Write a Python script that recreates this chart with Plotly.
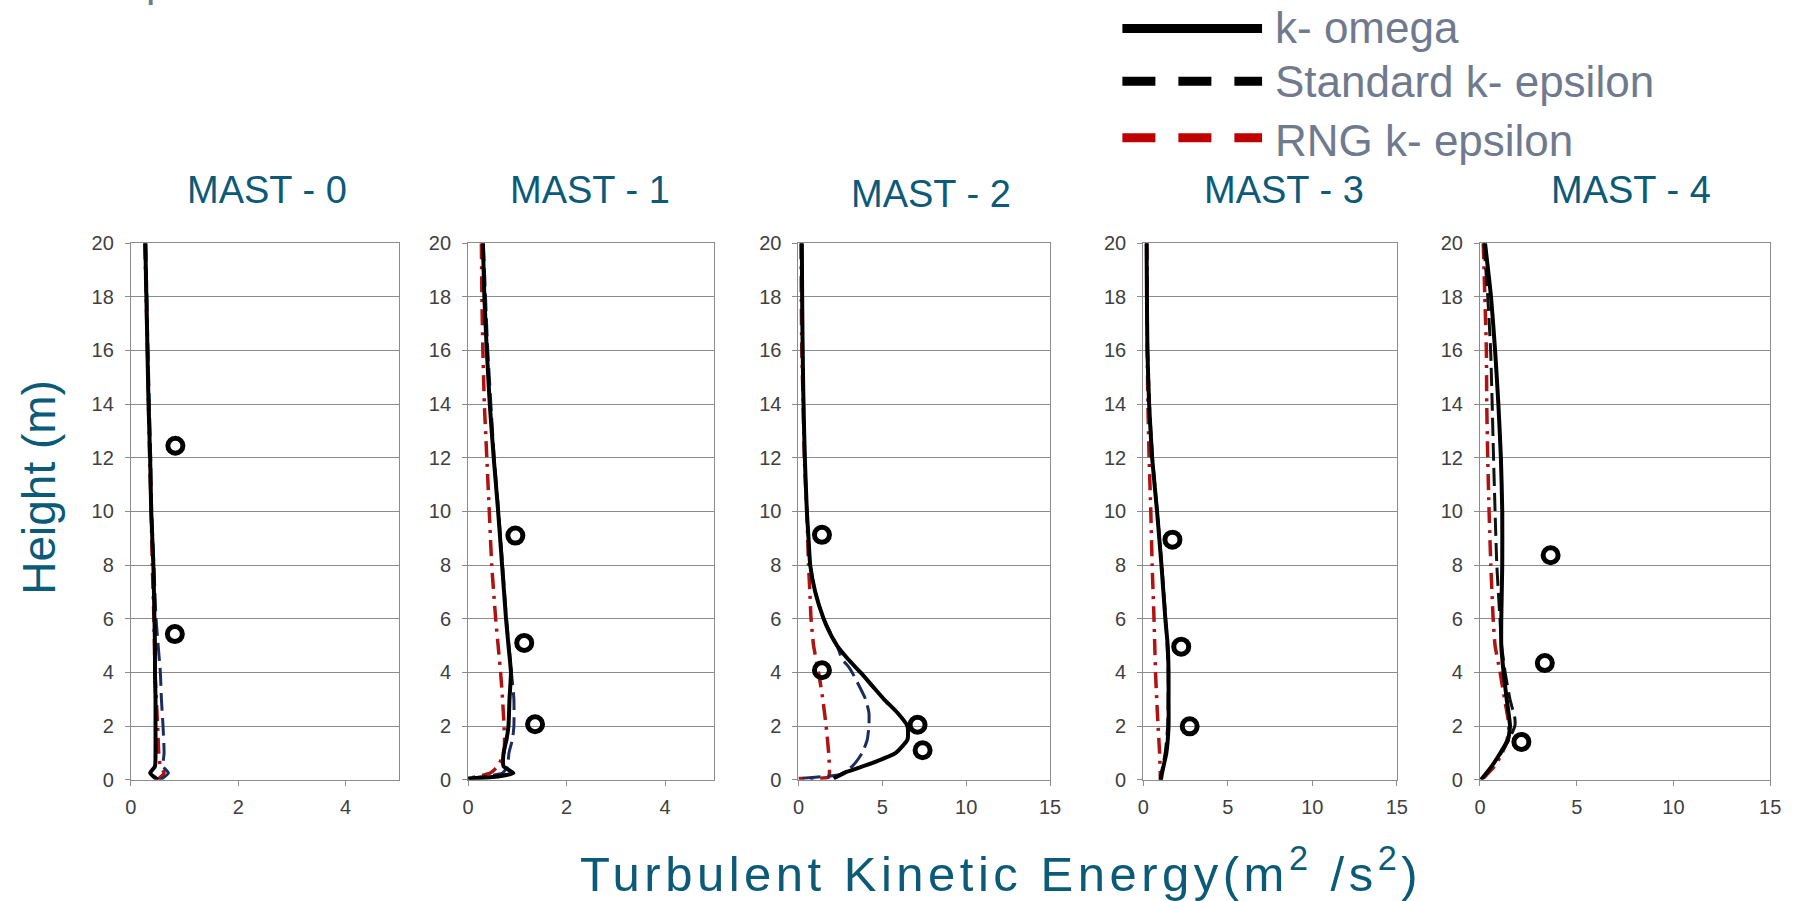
import plotly.graph_objects as go

W, H = 1806, 901
FONT = "Liberation Sans, Arial, sans-serif"

# ---------------- data ----------------
panel_titles = ["MAST - 0", "MAST - 1", "MAST - 2", "MAST - 3", "MAST - 4"]
x_ranges = [[0, 5], [0, 5], [0, 15], [0, 15], [0, 15]]
x_ticks = [[0, 2, 4], [0, 2, 4], [0, 5, 10, 15], [0, 5, 10, 15], [0, 5, 10, 15]]
y_ticks = [0, 2, 4, 6, 8, 10, 12, 14, 16, 18, 20]
series_names = ["k- omega", "Standard k- epsilon", "RNG k- epsilon"]

# MAST - 0
m0_komega_h = [20, 18, 16, 14, 12, 10, 8, 6, 5, 4, 3, 2, 1, 0.5, 0.25, 0]
m0_komega = [0.27, 0.29, 0.31, 0.33, 0.36, 0.38, 0.42, 0.44, 0.45, 0.45, 0.46, 0.46, 0.46, 0.45, 0.36, 0.5]
m0_std_h = [20, 16, 12, 10, 8, 6, 4, 3, 2, 1, 0.5, 0.25, 0]
m0_std = [0.28, 0.32, 0.37, 0.39, 0.43, 0.47, 0.55, 0.57, 0.6, 0.62, 0.6, 0.7, 0.55]
m0_rng_h = [20, 16, 12, 10, 8, 6, 4, 2, 1, 0.5, 0.25, 0]
m0_rng = [0.26, 0.31, 0.35, 0.38, 0.4, 0.43, 0.45, 0.5, 0.52, 0.55, 0.62, 0.5]
m0_meas_x = [0.83, 0.82]
m0_meas_h = [12.45, 5.43]

# MAST - 1
m1_komega_h = [20, 18, 16, 14, 12, 10, 8, 6, 5, 4, 3, 2, 1.5, 1, 0.5, 0.25, 0.1, 0.05]
m1_komega = [0.30, 0.33, 0.38, 0.44, 0.52, 0.61, 0.69, 0.77, 0.82, 0.87, 0.84, 0.82, 0.78, 0.72, 0.72, 0.92, 0.5, 0]
m1_std_h = [20, 16, 12, 10, 8, 6, 4, 3, 2, 1.5, 1, 0.5, 0.25, 0.05]
m1_std = [0.31, 0.4, 0.53, 0.62, 0.7, 0.78, 0.88, 0.93, 0.93, 0.9, 0.83, 0.8, 0.7, 0]
m1_rng_h = [20, 18, 16, 14, 12, 10, 8, 6, 4, 3, 2, 1.5, 1, 0.5, 0.25, 0.05]
m1_rng = [0.27, 0.28, 0.3, 0.33, 0.38, 0.43, 0.48, 0.56, 0.66, 0.7, 0.73, 0.74, 0.73, 0.6, 0.45, 0]
m1_meas_x = [0.96, 1.14, 1.36]
m1_meas_h = [9.1, 5.1, 2.07]

# MAST - 2
m2_komega_h = [20, 18, 16, 14, 12, 10, 9, 8, 7, 6, 5.5, 5, 4.5, 4, 3.5, 3, 2.5, 2, 1.5, 1, 0.6, 0.3, 0.05]
m2_komega = [0.2, 0.22, 0.25, 0.3, 0.38, 0.5, 0.6, 0.7, 1.0, 1.5, 1.85, 2.3, 2.95, 3.7, 4.4, 5.1, 5.9, 6.5, 6.5, 5.8, 4.3, 2.9, 2.1]
m2_std_h = [20, 16, 12, 10, 8, 7, 6, 5, 4.5, 4.2, 4, 3, 2.5, 2, 1.5, 1, 0.5, 0.2, 0.05]
m2_std = [0.2, 0.25, 0.38, 0.5, 0.7, 1.0, 1.5, 2.3, 2.6, 3.0, 3.2, 4.0, 4.2, 4.2, 4.1, 3.8, 3.2, 2.5, 0]
m2_rng_h = [20, 18, 16, 14, 12, 10, 9, 8, 7, 6, 5, 4, 3, 2, 1, 0.3, 0.1, 0.05]
m2_rng = [0.15, 0.17, 0.2, 0.28, 0.35, 0.5, 0.55, 0.6, 0.68, 0.75, 0.9, 1.2, 1.45, 1.65, 1.8, 1.85, 1.8, 0]
m2_meas_x = [1.4, 1.4, 7.1, 7.4]
m2_meas_h = [9.13, 4.08, 2.05, 1.1]

# MAST - 3
m3_komega_h = [20, 18, 16, 14, 12, 10, 8, 6, 5, 4, 3, 2, 1, 0.5, 0.2, 0]
m3_komega = [0.2, 0.22, 0.25, 0.35, 0.53, 0.82, 1.08, 1.31, 1.45, 1.5, 1.5, 1.5, 1.37, 1.2, 1.1, 1.05]
m3_std_h = [20, 16, 14, 12, 10, 8, 6, 4, 2, 1, 0]
m3_std = [0.2, 0.27, 0.37, 0.55, 0.83, 1.1, 1.33, 1.48, 1.45, 1.3, 1.0]
m3_rng_h = [20, 18, 16, 14, 12, 10, 8, 6, 4, 3, 2, 1, 0]
m3_rng = [0.22, 0.23, 0.24, 0.28, 0.35, 0.45, 0.53, 0.64, 0.73, 0.8, 0.88, 0.97, 1.02]
m3_meas_x = [1.73, 2.25, 2.75]
m3_meas_h = [8.95, 4.96, 1.99]

# MAST - 4
m4_komega_h = [20, 18, 16, 14, 12, 10, 8, 6, 5, 4, 3, 2, 1.5, 1, 0.5, 0]
m4_komega = [0.26, 0.57, 0.78, 0.95, 1.08, 1.15, 1.15, 1.1, 1.1, 1.22, 1.38, 1.55, 1.45, 1.05, 0.6, 0.05]
m4_std_h = [20, 18, 16, 14, 12, 10, 8, 6, 5, 4, 3, 2.3, 2, 1.5, 1, 0.5, 0]
m4_std = [0.2, 0.4, 0.55, 0.63, 0.7, 0.78, 0.87, 1.03, 1.12, 1.3, 1.55, 1.8, 1.8, 1.5, 1.1, 0.6, 0.1]
m4_rng_h = [20, 18, 16, 14, 12, 10, 8, 6, 5, 4, 3, 2, 1.5, 1, 0.5, 0]
m4_rng = [0.17, 0.25, 0.33, 0.35, 0.4, 0.47, 0.56, 0.68, 0.78, 1.04, 1.27, 1.5, 1.4, 1.15, 0.75, 0.1]
m4_meas_x = [3.65, 3.35, 2.14]
m4_meas_h = [8.37, 4.35, 1.41]

komega_x = [m0_komega, m1_komega, m2_komega, m3_komega, m4_komega]
komega_h = [m0_komega_h, m1_komega_h, m2_komega_h, m3_komega_h, m4_komega_h]
std_x = [m0_std, m1_std, m2_std, m3_std, m4_std]
std_h = [m0_std_h, m1_std_h, m2_std_h, m3_std_h, m4_std_h]
rng_x = [m0_rng, m1_rng, m2_rng, m3_rng, m4_rng]
rng_h = [m0_rng_h, m1_rng_h, m2_rng_h, m3_rng_h, m4_rng_h]
meas_x = [m0_meas_x, m1_meas_x, m2_meas_x, m3_meas_x, m4_meas_x]
meas_h = [m0_meas_h, m1_meas_h, m2_meas_h, m3_meas_h, m4_meas_h]

# ---------------- layout / style ----------------
panel_left = [126, 466.5, 800, 1148, 1488]
panel_right = [397, 715, 1054, 1404, 1781]
panel_top, panel_bottom = 238, 788
title_x = [263, 590, 934, 1290, 1640]
title_y = [183, 183, 188, 183, 183]
std_colors = ["#1c2d5c", "#1c2d5c", "#1c2d5c", "#111111", "#111111"]

TITLE_COL = "#0b5a78"
LEG_COL = "#707a8e"
GRID = "#8c8c8c"


def px(xp):
    return xp / W


def py(yp):
    return 1 - yp / H


fig = go.Figure()

for i in range(5):
    xa = "x" if i == 0 else f"x{i+1}"
    ya = "y" if i == 0 else f"y{i+1}"
    fig.add_trace(go.Scatter(x=rng_x[i], y=rng_h[i], xaxis=xa, yaxis=ya, mode="lines",
                             line=dict(color="#b01212", width=3.5, dash="16px,7px,3px,7px",
                                       shape="spline", smoothing=0.5),
                             showlegend=False, name=series_names[2]))
    fig.add_trace(go.Scatter(x=std_x[i], y=std_h[i], xaxis=xa, yaxis=ya, mode="lines",
                             line=dict(color=std_colors[i], width=3, dash="18px,7px",
                                       shape="spline", smoothing=0.5),
                             showlegend=False, name=series_names[1]))
    fig.add_trace(go.Scatter(x=komega_x[i], y=komega_h[i], xaxis=xa, yaxis=ya, mode="lines",
                             line=dict(color="#000000", width=4, shape="spline", smoothing=0.5),
                             showlegend=False, name=series_names[0]))
    fig.add_trace(go.Scatter(x=meas_x[i], y=meas_h[i], xaxis=xa, yaxis=ya, mode="markers",
                             marker=dict(symbol="circle-open", size=15, color="#000000",
                                         line=dict(width=5, color="#000000")),
                             showlegend=False, name="Measured"))

    axx = dict(domain=[px(panel_left[i]), px(panel_right[i])], anchor=ya, range=x_ranges[i],
               tickvals=x_ticks[i], showgrid=False, zeroline=False, showline=True,
               linecolor=GRID, linewidth=1, mirror=True, ticks="outside", ticklen=5,
               tickcolor=GRID, tickfont=dict(family=FONT, size=20, color="#404040"),
               ticklabelstandoff=4)
    axy = dict(domain=[py(panel_bottom), py(panel_top)], anchor=xa, range=[0, 20],
               tickvals=y_ticks, showgrid=True, gridcolor=GRID, gridwidth=1, zeroline=False,
               showline=True, linecolor=GRID, linewidth=1, mirror=True, ticks="outside",
               ticklen=5, tickcolor=GRID, tickfont=dict(family=FONT, size=20, color="#404040"),
               ticklabelstandoff=7)
    fig.layout["xaxis" if i == 0 else f"xaxis{i+1}"] = axx
    fig.layout["yaxis" if i == 0 else f"yaxis{i+1}"] = axy

annotations = []
for i in range(5):
    annotations.append(dict(text=panel_titles[i], x=px(title_x[i]), y=py(title_y[i]), xref="paper",
                            yref="paper", xanchor="center", yanchor="middle", showarrow=False,
                            font=dict(family=FONT, size=38, color=TITLE_COL)))

# axis titles
annotations.append(dict(text="Height (m)", x=px(33), y=py(488), xref="paper", yref="paper",
                        xanchor="center", yanchor="middle", textangle=-90, showarrow=False,
                        font=dict(family=FONT, size=46, color=TITLE_COL)))
annotations.append(dict(text="<span style='letter-spacing:4.5px'>Turbulent Kinetic Energy(m<sup>2</sup> /s<sup>2</sup>)</span>",
                        x=px(1004), y=py(880), xref="paper", yref="paper", xanchor="center",
                        yanchor="middle", showarrow=False,
                        font=dict(family=FONT, size=49, color=TITLE_COL)))

# legend (drawn)
leg_y = [18, 72, 130]
leg_text_y = [17, 72, 133]
for k in range(3):
    annotations.append(dict(text=series_names[k], x=px(1279), y=py(leg_text_y[k]), xref="paper",
                            yref="paper", xanchor="left", yanchor="middle", showarrow=False,
                            font=dict(family=FONT, size=44, color=LEG_COL)))

# cut-off text fragment at top-left
annotations.append(dict(text="p", x=px(139), y=py(-4), xref="paper", yref="paper",
                        xanchor="left", yanchor="bottom", showarrow=False,
                        font=dict(family=FONT, size=42, color=LEG_COL)))

shapes = [
    dict(type="line", xref="paper", yref="paper", x0=px(1127), x1=px(1268), y0=py(leg_y[0]),
         y1=py(leg_y[0]), line=dict(color="#000000", width=9)),
    dict(type="line", xref="paper", yref="paper", x0=px(1127), x1=px(1268), y0=py(leg_y[1]),
         y1=py(leg_y[1]), line=dict(color="#000000", width=9, dash="33px,23px")),
    dict(type="line", xref="paper", yref="paper", x0=px(1127), x1=px(1268), y0=py(leg_y[2]),
         y1=py(leg_y[2]), line=dict(color="#c00000", width=9, dash="33px,23px")),
]

fig.update_layout(width=W, height=H, margin=dict(l=0, r=0, t=0, b=0),
                  paper_bgcolor="white", plot_bgcolor="white", showlegend=False,
                  annotations=annotations, shapes=shapes, font=dict(family=FONT))

fig.write_html("out.html")
